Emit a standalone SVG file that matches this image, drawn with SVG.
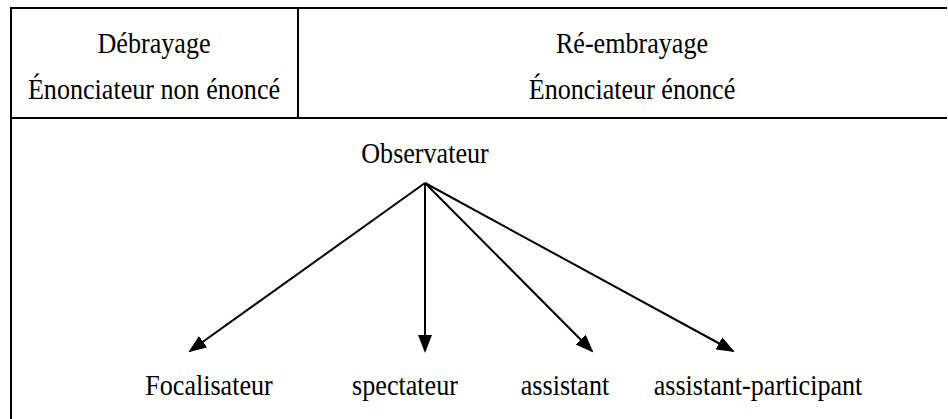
<svg xmlns="http://www.w3.org/2000/svg" width="948" height="419" viewBox="0 0 948 419">
<style>
.t{font-family:"Liberation Serif","Times New Roman","DejaVu Serif",serif;font-size:30px;fill:#000;text-anchor:middle}
.ln{stroke:#000;stroke-width:2;fill:none}
.c{stroke:#000;stroke-width:2;fill:none;marker-end:url(#ah)}
</style>
<defs>
<marker id="ah" markerWidth="9" markerHeight="7" refX="8" refY="3.5" orient="auto" markerUnits="strokeWidth">
<path d="M0,0 L9,3.5 L0,7 Z" fill="#000"/>
</marker>
</defs>
<rect width="948" height="419" fill="#fff"/>
<g id="frame">
<path class="ln" d="M11,8 H947 M11,7 V419 M298,8 V118 M11,118 H947"/>
</g>
<g id="debrayage">
<text class="t" transform="translate(154,53) scale(0.87,1)">Débrayage</text>
<text class="t" transform="translate(154,99) scale(0.87,1)">Énonciateur non énoncé</text>
</g>
<g id="reembrayage">
<text class="t" transform="translate(632,53) scale(0.87,1)">Ré-embrayage</text>
<text class="t" transform="translate(632,99) scale(0.87,1)">Énonciateur énoncé</text>
</g>
<g id="observateur">
<text class="t" transform="translate(425,163) scale(0.87,1)">Observateur</text>
</g>
<g id="focalisateur">
<text class="t" transform="translate(209,395) scale(0.87,1)">Focalisateur</text>
</g>
<g id="spectateur">
<text class="t" transform="translate(405,395) scale(0.87,1)">spectateur</text>
</g>
<g id="assistant">
<text class="t" transform="translate(565,395) scale(0.87,1)">assistant</text>
</g>
<g id="assistant-participant">
<text class="t" transform="translate(758,395) scale(0.87,1)">assistant-participant</text>
</g>
<g id="connectors">
<line class="c" x1="425" y1="183" x2="190" y2="351"/>
<line class="c" x1="425" y1="183" x2="425" y2="351"/>
<line class="c" x1="425" y1="183" x2="592" y2="351"/>
<line class="c" x1="425" y1="183" x2="733" y2="351"/>
</g>
</svg>
